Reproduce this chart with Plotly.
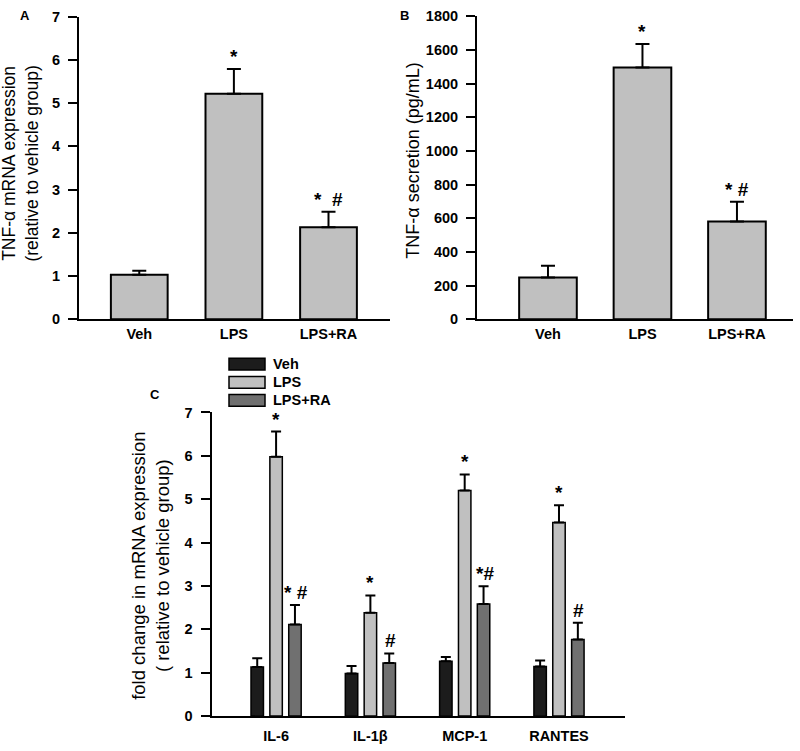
import plotly.graph_objects as go

# ---------------- data ----------------
A_cats = ["Veh", "LPS", "LPS+RA"]
A_vals = [1.03, 5.22, 2.13]
A_err = [0.09, 0.57, 0.36]
A_sig = ["", "*", "*  #"]

B_cats = ["Veh", "LPS", "LPS+RA"]
B_vals = [248, 1496, 580]
B_err = [70, 140, 118]
B_sig = ["", "*", "* #"]

C_genes = ["IL-6", "IL-1β", "MCP-1", "RANTES"]
C_groups = ["Veh", "LPS", "LPS+RA"]
C_veh = [1.13, 0.98, 1.26, 1.14]
C_veh_err = [0.20, 0.17, 0.10, 0.14]
C_lps = [5.98, 2.38, 5.20, 4.46]
C_lps_err = [0.58, 0.40, 0.37, 0.40]
C_ra = [2.11, 1.22, 2.58, 1.76]
C_ra_err = [0.45, 0.22, 0.41, 0.39]
C_lps_sig = ["*", "*", "*", "*"]
C_ra_sig = ["* #", "#", "*#", "#"]

A_ticks = [0, 1, 2, 3, 4, 5, 6, 7]
B_ticks = [0, 200, 400, 600, 800, 1000, 1200, 1400, 1600, 1800]
C_ticks = [0, 1, 2, 3, 4, 5, 6, 7]

# ---------------- style ----------------
W, H = 800, 751
FONT = "Liberation Sans, Arial, sans-serif"
GRAY = "#c0c0c0"
BLACK = "#1c1c1c"
DARK = "#707070"
C_colors = [BLACK, GRAY, DARK]


def px(x):
    return x / W


def py(y):
    return 1 - y / H


fig = go.Figure()

line = dict(color="black", width=2)


def err(arr, w):
    return dict(type="data", symmetric=False, array=arr, arrayminus=[0] * len(arr),
                color="black", thickness=2, width=w)


fig.add_trace(go.Bar(x=A_cats, y=A_vals, width=0.6, marker=dict(color=GRAY, line=line),
                     error_y=err(A_err, 7), xaxis="x", yaxis="y", showlegend=False))
fig.add_trace(go.Bar(x=B_cats, y=B_vals, width=0.61, marker=dict(color=GRAY, line=line),
                     error_y=err(B_err, 7), xaxis="x2", yaxis="y2", showlegend=False))
bw = 0.132
for name, vals, errs, col, off in zip(C_groups, [C_veh, C_lps, C_ra],
                                      [C_veh_err, C_lps_err, C_ra_err], C_colors,
                                      [-0.2, 0.0, 0.2]):
    fig.add_trace(go.Bar(name=name, x=C_genes, y=vals, width=bw, offset=off - bw / 2,
                         marker=dict(color=col, line=dict(color="black", width=1.5)),
                         error_y=err(errs, 5), xaxis="x3", yaxis="y3", showlegend=False))

annotations = []


def sig_ann(cats, vals, errs, sig, xr, yr, dx=0.0, size=19):
    for c, v, e, s in zip(cats, vals, errs, sig):
        if not s:
            continue
        annotations.append(dict(x=c, y=v + e, xref=xr, yref=yr, text=s, showarrow=False,
                                yanchor="bottom", yshift=0, xshift=dx,
                                font=dict(family=FONT, size=size, color="black", weight="bold")))


sig_ann(A_cats, A_vals, A_err, A_sig, "x", "y")
sig_ann(B_cats, B_vals, B_err, B_sig, "x2", "y2")
sig_ann(C_genes, C_lps, C_lps_err, C_lps_sig, "x3", "y3", dx=0)
sig_ann(C_genes, C_ra, C_ra_err, C_ra_sig, "x3", "y3", dx=20)

# panel letters
for t, x, y in [("A", 25, 8), ("B", 404, 8), ("C", 155, 395)]:
    annotations.append(dict(x=px(x), y=py(y), xref="paper", yref="paper", text=t, showarrow=False,
                            xanchor="center", yanchor="middle",
                            font=dict(family=FONT, size=13, color="black", weight="bold")))

# y-axis titles
for t, x, y, fs in [("TNF-α mRNA expression<br>(relative to vehicle group)", 21, 159, 17.5),
                    ("TNF-α secretion (pg/mL)", 413, 156, 18),
                    ("fold change in mRNA expression<br>( relative to vehicle group)", 151, 570, 18.5)]:
    annotations.append(dict(x=px(x), y=py(y), xref="paper", yref="paper", text=t, showarrow=False,
                            textangle=-90, xanchor="center", yanchor="middle",
                            font=dict(family=FONT, size=fs, color="black")))

# legend for panel C (wide swatches like the original)
shapes = []
for i, (name, col) in enumerate(zip(C_groups, C_colors)):
    yc = 364 + i * 18.5
    shapes.append(dict(type="rect", xref="paper", yref="paper",
                       x0=px(229), x1=px(265), y0=py(yc + 6), y1=py(yc - 6),
                       fillcolor=col, line=dict(color="black", width=1.5)))
    annotations.append(dict(x=px(271), y=py(yc), xref="paper", yref="paper", text=name,
                            showarrow=False, xanchor="left", yanchor="middle",
                            font=dict(family=FONT, size=14.5, color="black", weight="bold")))

tickfont = dict(family=FONT, size=14.5, color="black", weight="bold")
xcommon = dict(showline=True, linecolor="black", linewidth=2, ticks="", showgrid=False,
               zeroline=False, tickfont=tickfont, fixedrange=True)
ycommon = dict(showline=True, linecolor="black", linewidth=2, ticks="outside", ticklen=9,
               tickwidth=2, tickcolor="black", showgrid=False, zeroline=False,
               tickfont=tickfont, ticklabelstandoff=5, fixedrange=True)

fig.update_layout(
    width=W, height=H,
    margin=dict(l=0, r=0, t=0, b=0),
    paper_bgcolor="white", plot_bgcolor="white",
    barmode="overlay",
    showlegend=False,
    font=dict(family=FONT, color="black"),
    xaxis=dict(domain=[px(79), px(390)], range=[-0.637, 2.65], anchor="y", **xcommon),
    yaxis=dict(domain=[py(318), py(9)], range=[0, 7], tickvals=A_ticks, anchor="x", **ycommon),
    xaxis2=dict(domain=[px(477), px(793)], range=[-0.751, 2.593], anchor="y2", **xcommon),
    yaxis2=dict(domain=[py(318), py(8.5)], range=[0, 1800], tickvals=B_ticks, anchor="x2", **ycommon),
    xaxis3=dict(domain=[px(211.5), px(625)], range=[-0.685, 3.70], anchor="y3",
                ticklabelstandoff=6, **xcommon),
    yaxis3=dict(domain=[py(723.3), py(413.3)], range=[0, 7], tickvals=C_ticks, anchor="x3", **ycommon),
    annotations=annotations,
    shapes=shapes,
)

fig.write_html("out.html", config={"displayModeBar": False},
               post_script="document.body.style.margin='0px';")
